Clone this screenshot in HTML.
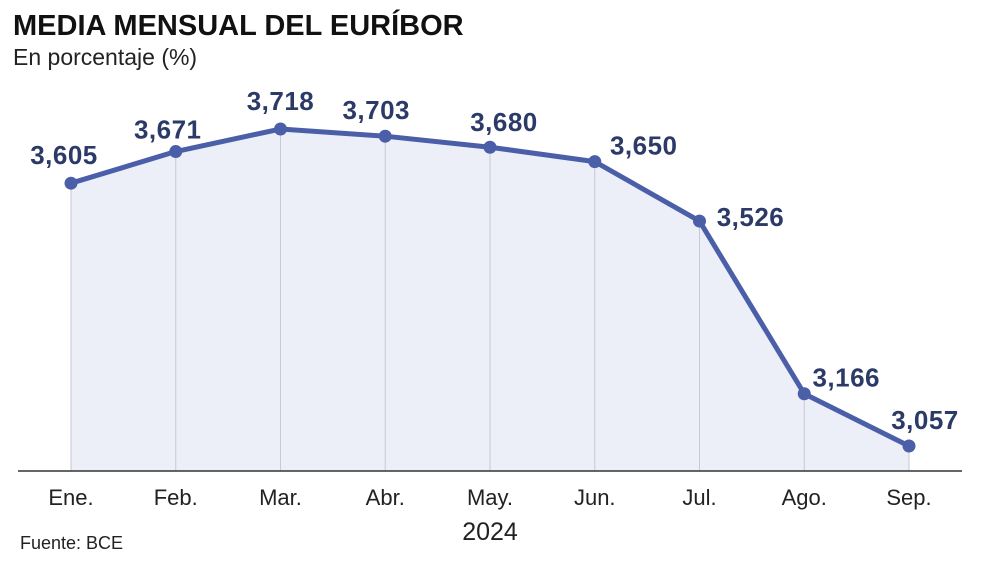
<!DOCTYPE html>
<html><head><meta charset="utf-8"><style>
body{margin:0;background:#fff;width:1000px;height:567px;overflow:hidden;font-family:"Liberation Sans",sans-serif}
</style></head><body>
<svg width="1000" height="567" viewBox="0 0 1000 567">
<text x="13" y="35" font-size="29" font-weight="bold" fill="#111">MEDIA MENSUAL DEL EURÍBOR</text>
<text x="13" y="65" font-size="23" fill="#222">En porcentaje (%)</text>
<g id="plot"></g>
<text x="490" y="540" font-size="25" fill="#222" text-anchor="middle">2024</text>
<text x="20" y="549" font-size="18" fill="#222">Fuente: BCE</text>
</svg>
<script>
const months=["Ene.","Feb.","Mar.","Abr.","May.","Jun.","Jul.","Ago.","Sep."];
const values=[3.605,3.671,3.718,3.703,3.680,3.650,3.526,3.166,3.057];
const valueLabels=["3,605","3,671","3,718","3,703","3,680","3,650","3,526","3,166","3,057"];
const labelDx=[-7,-8,0,-9,14,49,51,42,16];
const labelDy=[-29,-23,-29,-27,-26,-17,-5,-17,-27];
const NS="http://www.w3.org/2000/svg";
const g=document.getElementById('plot');
const x0=71,dx=104.75,yTop=129,yBase=471,vMax=3.718,pxPerUnit=479.6;
const xs=i=>x0+i*dx;
const ys=v=>yTop+(vMax-v)*pxPerUnit;
function mk(t,a){const e=document.createElementNS(NS,t);for(const k in a)e.setAttribute(k,a[k]);g.appendChild(e);return e;}
let area="M"+xs(0)+","+yBase;
values.forEach((v,i)=>area+=" L"+xs(i)+","+ys(v));
area+=" L"+xs(values.length-1)+","+yBase+" Z";
const ar=mk('path',{d:area,fill:'#eceef8'});


values.forEach((v,i)=>{
 const gl=mk('line',{x1:xs(i),x2:xs(i),y1:ys(v),y2:yBase,stroke:'#c8c9d2','stroke-width':1});
 
 
});
const ax=mk('line',{x1:18,x2:962,y1:yBase,y2:yBase,stroke:'#333','stroke-width':1.5});


const ln=mk('polyline',{points:values.map((v,i)=>xs(i)+","+ys(v)).join(' '),fill:'none',stroke:'#4a5fa8','stroke-width':5,'stroke-linejoin':'round'});


values.forEach((v,i)=>{
 const c=mk('circle',{cx:xs(i),cy:ys(v),r:6.5,fill:'#4a5fa8'});
 
 
 const t=mk('text',{x:xs(i)+labelDx[i],y:ys(v)+labelDy[i]+10,'font-size':26,'font-weight':'bold',fill:'#2b3a67','text-anchor':'middle','letter-spacing':'0.5'});
 t.textContent=valueLabels[i];
 
 
 const m=mk('text',{x:xs(i),y:505,'font-size':22,fill:'#222','text-anchor':'middle'});
 m.textContent=months[i];
 
 
});
</script>
</body></html>
